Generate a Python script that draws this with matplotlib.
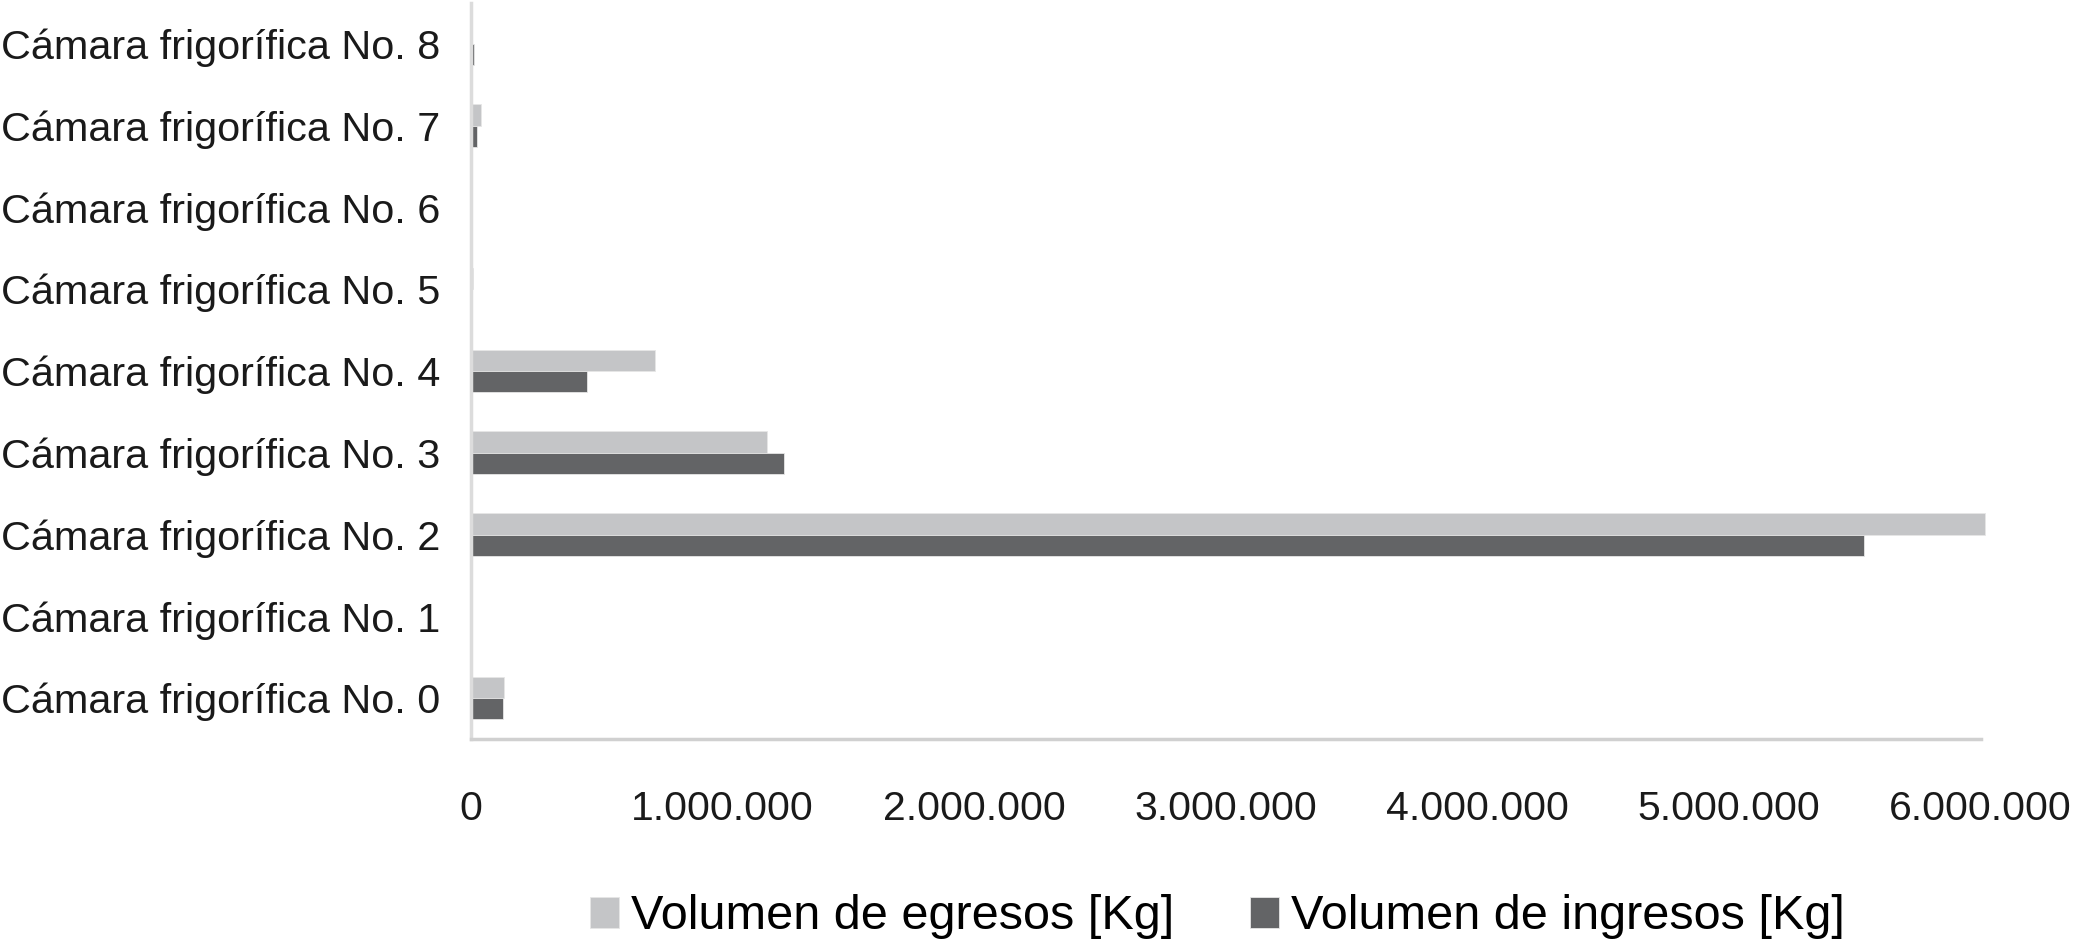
import matplotlib.pyplot as plt
import numpy as np
from matplotlib.ticker import FuncFormatter

plt.rcParams['font.family'] = ['Liberation Sans', 'DejaVu Sans']

# data
categorias = [f'Cámara frigorífica No. {i}' for i in range(9)]
egresos = [133000, 0, 6017000, 1179000, 732000, 8000, 0, 41000, 5000]
ingresos = [128000, 5000, 5535000, 1243000, 460000, 0, 0, 23000, 13000]
xticks = [0, 1000000, 2000000, 3000000, 4000000, 5000000, 6000000]

c_egr = '#c4c5c7'
c_ing = '#636466'

fig = plt.figure(figsize=(20.74, 9.49), dpi=100)
ax = fig.add_axes([0.227, 0.2213, 0.728, 0.7757])

y = np.arange(len(categorias))
h = 0.26
ax.barh(y + h / 2, egresos, height=h, color=c_egr, label='Volumen de egresos [Kg]',
        edgecolor='#e6e6e6', linewidth=0.6, clip_on=False)
ax.barh(y - h / 2, ingresos, height=h, color=c_ing, label='Volumen de ingresos [Kg]',
        edgecolor='#e6e6e6', linewidth=0.6, clip_on=False)

ax.set_ylim(-0.5, 8.5)
ax.set_xlim(0, 6000000)
ax.set_yticks(y)
ax.set_yticklabels(categorias, fontsize=29.8, color='#1a1a1a')
ax.set_xticks(xticks)
ax.xaxis.set_major_formatter(FuncFormatter(lambda v, p: f'{int(v):,}'.replace(',', '.')))
ax.tick_params(axis='x', labelsize=29.5, pad=37, length=0, colors='#1a1a1a')
ax.tick_params(axis='y', length=0, pad=22)

for s in ['top', 'right']:
    ax.spines[s].set_visible(False)
ax.spines['left'].set_color('#dcdcdc')
ax.spines['left'].set_linewidth(2.5)
ax.spines['bottom'].set_color('#d0d0d0')
ax.spines['bottom'].set_linewidth(2.5)

fig.legend(loc='center', bbox_to_anchor=(0.587, 0.034), ncol=2, frameon=False,
           fontsize=35, handlelength=0.6, handleheight=0.6, handletextpad=0.25,
           columnspacing=1.55)

fig.savefig('out.png', dpi=100)
